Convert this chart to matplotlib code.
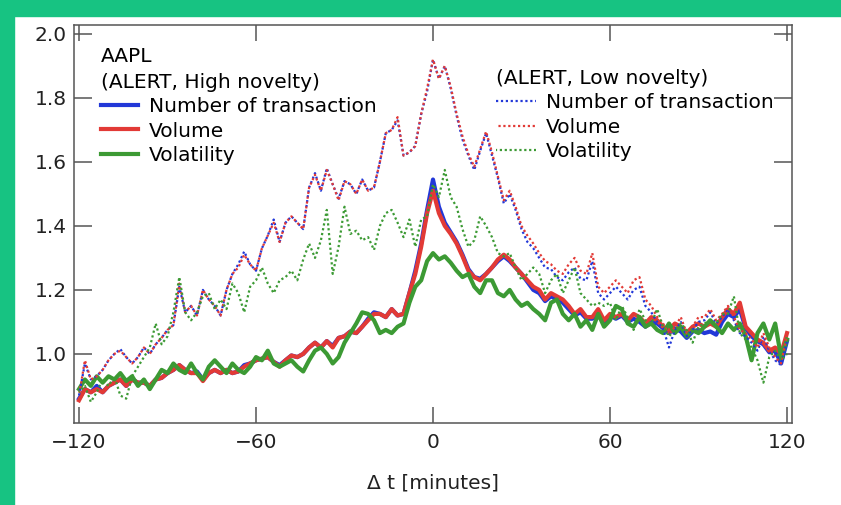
"""AAPL: resposta em torno dos alertas (alta vs baixa novidade)."""

import matplotlib
matplotlib.use("Agg")
import matplotlib.pyplot as plt
import numpy as np

# minutos relativos ao alerta (amostragem de 2 min)
minutes = np.arange(-120, 121, 2)

# ALERT, High novelty (linhas cheias)
hi_num = [
    0.86, 0.89, 0.88, 0.90, 0.88, 0.90, 0.91, 0.92, 0.90, 0.92,
    0.91, 0.91, 0.90, 0.92, 0.925, 0.94, 0.95, 0.965, 0.95, 0.94,
    0.945, 0.92, 0.94, 0.95, 0.94, 0.95, 0.94, 0.945, 0.965, 0.97,
    0.98, 0.985, 0.99, 0.975, 0.965, 0.98, 0.995, 0.99, 1.0, 1.02,
    1.035, 1.02, 1.04, 1.025, 1.05, 1.055, 1.07, 1.065, 1.085, 1.11,
    1.13, 1.125, 1.115, 1.14, 1.12, 1.125, 1.19, 1.26, 1.345, 1.45,
    1.545,
    1.46, 1.41, 1.38, 1.35, 1.31, 1.265, 1.24, 1.235, 1.25, 1.27,
    1.29, 1.305, 1.29, 1.27, 1.25, 1.225, 1.20, 1.19, 1.165, 1.18,
    1.17, 1.16, 1.14, 1.12, 1.13, 1.11, 1.11, 1.13, 1.10, 1.12,
    1.11, 1.12, 1.10, 1.11, 1.10, 1.085, 1.10, 1.095, 1.08, 1.065,
    1.08, 1.07, 1.05, 1.07, 1.075, 1.065, 1.07, 1.06, 1.10, 1.125,
    1.115, 1.14, 1.08, 1.055, 1.04, 1.03, 1.005, 1.01, 0.97, 1.04,
]
hi_vol = [
    0.855, 0.89, 0.88, 0.89, 0.88, 0.90, 0.91, 0.92, 0.90, 0.92,
    0.91, 0.91, 0.90, 0.92, 0.925, 0.94, 0.95, 0.965, 0.95, 0.94,
    0.94, 0.915, 0.94, 0.95, 0.94, 0.95, 0.94, 0.945, 0.96, 0.97,
    0.98, 0.985, 0.99, 0.975, 0.96, 0.98, 0.995, 0.99, 1.0, 1.02,
    1.035, 1.02, 1.04, 1.02, 1.05, 1.055, 1.07, 1.065, 1.085, 1.105,
    1.125, 1.125, 1.115, 1.14, 1.12, 1.125, 1.19, 1.25, 1.335, 1.44,
    1.51,
    1.44, 1.40, 1.375, 1.345, 1.305, 1.26, 1.24, 1.23, 1.25, 1.27,
    1.295, 1.31, 1.295, 1.27, 1.25, 1.23, 1.21, 1.20, 1.17, 1.19,
    1.18, 1.17, 1.15, 1.125, 1.14, 1.115, 1.115, 1.14, 1.105, 1.125,
    1.115, 1.125, 1.105, 1.125, 1.115, 1.095, 1.115, 1.105, 1.085, 1.075,
    1.095, 1.085, 1.065, 1.085, 1.095, 1.085, 1.095, 1.085, 1.115, 1.14,
    1.125, 1.16, 1.085, 1.065, 1.045, 1.035, 1.01, 1.02, 1.0, 1.065,
]
hi_vlt = [
    0.89, 0.92, 0.90, 0.93, 0.91, 0.93, 0.92, 0.94, 0.915, 0.93,
    0.90, 0.92, 0.89, 0.92, 0.95, 0.94, 0.97, 0.95, 0.94, 0.97,
    0.94, 0.92, 0.96, 0.98, 0.96, 0.94, 0.97, 0.95, 0.94, 0.96,
    0.99, 0.98, 1.01, 0.97, 0.96, 0.97, 0.98, 0.96, 0.945, 0.98,
    1.01, 1.02, 1.0, 0.97, 0.99, 1.035, 1.065, 1.095, 1.13, 1.125,
    1.105, 1.065, 1.075, 1.065, 1.085, 1.095, 1.16, 1.21, 1.23, 1.29,
    1.315,
    1.295, 1.305, 1.285, 1.26, 1.24, 1.25, 1.21, 1.19, 1.23, 1.23,
    1.19, 1.18, 1.20, 1.17, 1.15, 1.16, 1.14, 1.125, 1.105, 1.16,
    1.17, 1.125, 1.105, 1.125, 1.085, 1.105, 1.075, 1.125, 1.085, 1.105,
    1.15, 1.14, 1.095, 1.085, 1.115, 1.085, 1.095, 1.075, 1.065, 1.095,
    1.065, 1.085, 1.055, 1.075, 1.065, 1.085, 1.105, 1.085, 1.065, 1.095,
    1.075, 1.095, 1.055, 0.98, 1.065, 1.095, 1.045, 1.095, 0.99, 1.045,
]

# ALERT, Low novelty (linhas pontilhadas)
lo_num = [
    0.87, 0.97, 0.92, 0.93, 0.95, 0.98, 1.0, 1.015, 0.99, 0.97,
    0.99, 1.02, 1.0, 1.03, 1.05, 1.075, 1.09, 1.21, 1.13, 1.15,
    1.12, 1.20, 1.17, 1.15, 1.12, 1.20, 1.25, 1.28, 1.32, 1.28,
    1.26, 1.33, 1.37, 1.42, 1.35, 1.41, 1.43, 1.41, 1.39, 1.52,
    1.565, 1.51, 1.58, 1.53, 1.485, 1.54, 1.53, 1.50, 1.545, 1.51,
    1.52, 1.60, 1.69, 1.70, 1.73, 1.62, 1.63, 1.65, 1.75, 1.82,
    1.92,
    1.86, 1.90, 1.83, 1.745, 1.67, 1.62, 1.575, 1.635, 1.69, 1.62,
    1.55, 1.47, 1.50, 1.45, 1.39, 1.35, 1.33, 1.30, 1.27, 1.265,
    1.24, 1.23, 1.255, 1.27, 1.235, 1.23, 1.29, 1.19, 1.17, 1.19,
    1.21, 1.19, 1.17, 1.20, 1.21, 1.15, 1.13, 1.10, 1.08, 1.02,
    1.075, 1.10, 1.055, 1.075, 1.10, 1.105, 1.13, 1.095, 1.115, 1.14,
    1.105, 1.065, 1.055, 1.035, 1.01, 1.055, 1.01, 0.98, 0.965, 1.04,
]
lo_vol = [
    0.87, 0.98, 0.92, 0.93, 0.95, 0.98, 1.0, 1.01, 0.99, 0.97,
    0.99, 1.02, 1.0, 1.03, 1.05, 1.075, 1.09, 1.22, 1.13, 1.15,
    1.12, 1.20, 1.17, 1.15, 1.12, 1.20, 1.25, 1.27, 1.31, 1.28,
    1.26, 1.33, 1.37, 1.41, 1.35, 1.41, 1.43, 1.41, 1.39, 1.52,
    1.56, 1.51, 1.575, 1.53, 1.48, 1.54, 1.53, 1.50, 1.545, 1.51,
    1.52, 1.60, 1.69, 1.70, 1.74, 1.62, 1.63, 1.65, 1.75, 1.83,
    1.92,
    1.86, 1.90, 1.835, 1.75, 1.68, 1.625, 1.585, 1.64, 1.695, 1.63,
    1.555, 1.48, 1.51, 1.46, 1.40, 1.37, 1.345, 1.315, 1.29, 1.28,
    1.26, 1.25, 1.28, 1.30, 1.26, 1.25, 1.315, 1.21, 1.19, 1.21,
    1.23, 1.21, 1.19, 1.23, 1.24, 1.17, 1.15, 1.115, 1.095, 1.06,
    1.085, 1.115, 1.065, 1.085, 1.115, 1.115, 1.14, 1.105, 1.125, 1.15,
    1.115, 1.075, 1.065, 1.045, 1.02, 1.065, 1.02, 0.99, 0.97, 1.06,
]
lo_vlt = [
    0.88, 0.90, 0.85, 0.88, 0.92, 0.90, 0.93, 0.87, 0.86, 0.93,
    0.96, 0.99, 1.02, 1.095, 1.03, 1.055, 1.13, 1.24, 1.13, 1.105,
    1.13, 1.18, 1.19, 1.14, 1.17, 1.14, 1.22, 1.19, 1.13, 1.21,
    1.23, 1.27, 1.22, 1.19, 1.23, 1.24, 1.26, 1.23, 1.295, 1.345,
    1.30, 1.355, 1.45, 1.25, 1.335, 1.46, 1.375, 1.385, 1.355, 1.365,
    1.325, 1.40, 1.44, 1.45, 1.41, 1.365, 1.42, 1.335, 1.42, 1.43,
    1.53,
    1.49, 1.575, 1.49, 1.46, 1.39, 1.335, 1.355, 1.43, 1.40, 1.365,
    1.315, 1.305, 1.315, 1.27, 1.23, 1.25, 1.27, 1.25, 1.19, 1.23,
    1.25, 1.19, 1.23, 1.27, 1.19, 1.17, 1.15, 1.16, 1.15, 1.16,
    1.105, 1.15, 1.115, 1.075, 1.14, 1.105, 1.095, 1.14, 1.085, 1.055,
    1.075, 1.095, 1.075, 1.035, 1.085, 1.095, 1.105, 1.095, 1.125, 1.125,
    1.18, 1.065, 1.045, 1.02, 0.98, 0.91, 0.99, 1.01, 0.98, 1.00,
]

labels = ["Number of transaction", "Volume", "Volatility"]
colors = ["#2238d8", "#e23a36", "#3c9a34"]
x_ticks = [-120, -60, 0, 60, 120]
y_ticks = [1.0, 1.2, 1.4, 1.6, 1.8, 2.0]

FS = 14.5
BORDER = "#17c382"
plt.rcParams["font.family"] = ["DejaVu Sans"]

fig = plt.figure(figsize=(8.41, 5.05), dpi=100)
# moldura verde (esquerda e topo)
fig.patches.append(plt.Rectangle((0, 0), 14 / 841, 1, transform=fig.transFigure,
                                 color=BORDER, zorder=-1))
fig.patches.append(plt.Rectangle((0, 1 - 16 / 505), 1, 16 / 505,
                                 transform=fig.transFigure,
                                 color=BORDER, zorder=-1))
ax = fig.add_axes([74 / 841, 1 - 423 / 505, 718 / 841, 398 / 505])

hi_lines = []
for ys, c in zip([hi_num, hi_vol, hi_vlt], colors):
    (ln,) = ax.plot(minutes, ys, color=c, lw=3.0, solid_joinstyle="round")
    hi_lines.append(ln)
# pontilhado com fase deslocada para os pontos azul/vermelho se alternarem
dash_offsets = [0.0, 1.1, 0.5]
lo_lines = []
for ys, c, off in zip([lo_num, lo_vol, lo_vlt], colors, dash_offsets):
    (ln,) = ax.plot(minutes, ys, color=c, lw=1.6, linestyle=(off, (1, 1.2)))
    lo_lines.append(ln)

ax.set_xlim(-121.7, 121.7)
ax.set_ylim(0.784, 2.028)
ax.set_xticks(x_ticks)
ax.set_yticks(y_ticks)
ax.set_yticklabels([f"{v:.1f}" for v in y_ticks])
ax.tick_params(axis="both", direction="in", top=True, right=True,
               colors="#555555", labelcolor="#222222", labelsize=FS, width=1.1)
ax.tick_params(axis="y", length=13, pad=5)
ax.tick_params(axis="x", length=11.5, pad=7)
for sp in ax.spines.values():
    sp.set_color("#555555")
    sp.set_linewidth(1.1)
ax.set_xlabel("\u0394 t [minutes]", fontsize=FS, labelpad=16, color="#222222")

leg1 = ax.legend(hi_lines, labels, title="AAPL\n(ALERT, High novelty)",
                 loc="upper left", bbox_to_anchor=(0.037, 0.945),
                 frameon=False, fontsize=FS, title_fontsize=FS,
                 alignment="left", handlelength=1.85, handletextpad=0.55,
                 labelspacing=0.27, borderpad=0, borderaxespad=0)
leg1.get_title().set_multialignment("left")
leg1.get_title().set_linespacing(1.45)
ax.add_artist(leg1)
leg2 = ax.legend(lo_lines, labels, title="(ALERT, Low novelty)",
                 loc="upper left", bbox_to_anchor=(0.5877, 0.89),
                 frameon=False, fontsize=FS, title_fontsize=FS,
                 alignment="left", handlelength=2.0, handletextpad=0.5,
                 labelspacing=0.27, borderpad=0, borderaxespad=0)

fig.savefig("out.png", dpi=100)
